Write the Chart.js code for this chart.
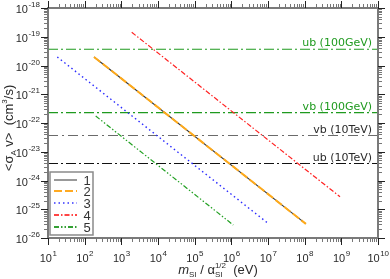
<!DOCTYPE html>
<html><head><meta charset="utf-8">
<script src="https://cdn.jsdelivr.net/npm/chart.js@4"></script>
<style>html,body{margin:0;padding:0;background:#fff}#wrap{width:390px;height:279px}</style>
</head><body><div id="wrap"><canvas id="c" width="390" height="279"></canvas></div>
<script>
// ---- data ----
const curveNames = ['1', '2', '3', '4', '5'];
const curve1X = [180, 1.08e8];
const curve1Y = [1.98e-20, 3.1e-26];
const curve2X = [180, 1.08e8];
const curve2Y = [1.98e-20, 3.1e-26];
const curve3X = [17.9, 1.06e7];
const curve3Y = [1.98e-20, 3.07e-26];
const curve4X = [1.92e3, 9.2e8];
const curve4Y = [1.43e-19, 2.73e-25];
const curve5X = [200, 1.13e6];
const curve5Y = [1.75e-22, 2.83e-26];
const refLabels = ['ub (100GeV)', 'vb (100GeV)', 'vb (10TeV)', 'ub (10TeV)'];
const refValues = [3.66e-20, 2.29e-22, 3.67e-23, 3.9e-24];
const xLimits = [1e1, 1e10];
const yLimits = [1e-26, 1e-18];
const xTickExps = [1, 2, 3, 4, 5, 6, 7, 8, 9, 10];
const yTickExps = [-18, -19, -20, -21, -22, -23, -24, -25, -26];

// ---- styles ----
const curveStyles = [
  {color: '#333333', width: 1.1, dash: [], order: 6},
  {color: '#ffaa1a', width: 2.0, dash: [8, 3], order: 5},
  {color: '#2a2aff', width: 1.4, dash: [1.5, 3], order: 4},
  {color: '#ff2222', width: 1.2, dash: [5, 2, 1.5, 2], order: 3},
  {color: '#22a022', width: 1.2, dash: [5, 2, 1.5, 2, 1.5, 2], order: 2}
];
const legendColors = ['#999999', '#ffaa22', '#6666ff', '#ff4444', '#33a033'];
const refStyles = [
  {color: '#1f9a1f', text: '#1f9a1f', dash: [10, 3, 2, 3]},
  {color: '#1f9a1f', text: '#1f9a1f', dash: [10, 3, 2, 3]},
  {color: '#6a6a6a', text: '#2a2a2a', dash: [10, 4, 2, 4]},
  {color: '#111111', text: '#2a2a2a', dash: [10, 3, 2, 3]}
];

const curvesX = [curve1X, curve2X, curve3X, curve4X, curve5X];
const curvesY = [curve1Y, curve2Y, curve3Y, curve4Y, curve5Y];

const datasets = [];
refValues.forEach((v, i) => {
  datasets.push({
    label: refLabels[i],
    data: xLimits.map(x => ({x: x, y: v})),
    borderColor: refStyles[i].color, borderWidth: 1.1, borderDash: refStyles[i].dash,
    showLine: true, pointRadius: 0, order: 10
  });
});
curveNames.forEach((n, i) => {
  datasets.push({
    label: n,
    data: curvesX[i].map((x, k) => ({x: x, y: curvesY[i][k]})),
    borderColor: curveStyles[i].color, borderWidth: curveStyles[i].width,
    borderDash: curveStyles[i].dash, showLine: true, pointRadius: 0,
    order: curveStyles[i].order
  });
});

const FONT = '"Liberation Sans", "DejaVu Sans", Arial, sans-serif';
const AFONT = '"DejaVu Sans", "Liberation Sans", sans-serif';

const decor = {
  id: 'decor',
  afterDraw(chart) {
    const ctx = chart.ctx, a = chart.chartArea;
    const xs = chart.scales.x, ys = chart.scales.y;
    ctx.save();
    // reference line annotations
    ctx.textAlign = 'right'; ctx.textBaseline = 'alphabetic';
    ctx.font = '11px ' + AFONT;
    refValues.forEach((v, i) => {
      ctx.fillStyle = refStyles[i].text;
      ctx.fillText(refLabels[i], a.right - 6, ys.getPixelForValue(v) - 3);
    });
    // axes box
    ctx.strokeStyle = '#7a7a7a'; ctx.lineWidth = 2; ctx.setLineDash([]);
    ctx.strokeRect(a.left, a.top, a.right - a.left, a.bottom - a.top);
    // ticks
    const tick = (x1, y1, x2, y2, major) => {
      ctx.strokeStyle = major ? '#222' : '#777';
      ctx.lineWidth = 1;
      ctx.beginPath(); ctx.moveTo(x1, y1); ctx.lineTo(x2, y2); ctx.stroke();
    };
    for (let e = 1; e <= 10; e++) {
      for (let m = 1; m <= 9; m++) {
        const v = m * Math.pow(10, e);
        if (v > xLimits[1] * 1.0001) break;
        const px = Math.round(xs.getPixelForValue(v)) + 0.5;
        const L = m === 1 ? 7 : 4;
        tick(px, a.top, px, a.top - L, m === 1);
        tick(px, a.bottom, px, a.bottom + L, m === 1);
      }
    }
    for (let e = -26; e <= -18; e++) {
      for (let m = 1; m <= 9; m++) {
        const v = m * Math.pow(10, e);
        if (v > yLimits[1] * 1.0001) break;
        const py = Math.round(ys.getPixelForValue(v)) + 0.5;
        const L = m === 1 ? 7 : 4;
        tick(a.left, py, a.left - L, py, m === 1);
        tick(a.right, py, a.right + L, py, m === 1);
      }
    }
    // tick labels
    ctx.fillStyle = '#2a2a2a'; ctx.textBaseline = 'alphabetic'; ctx.textAlign = 'left';
    xTickExps.forEach(e => {
      const px = xs.getPixelForValue(Math.pow(10, e));
      ctx.font = '11px ' + FONT; const w1 = ctx.measureText('10').width;
      ctx.font = '8px ' + FONT; const w2 = ctx.measureText(String(e)).width;
      const x0 = px - (w1 + w2) / 2;
      ctx.font = '11px ' + FONT; ctx.fillText('10', x0, a.bottom + 24);
      ctx.font = '8px ' + FONT; ctx.fillText(String(e), x0 + w1 + 0.5, a.bottom + 18);
    });
    yTickExps.forEach(e => {
      const py = ys.getPixelForValue(Math.pow(10, e));
      const s = String(e);
      ctx.font = '8px ' + FONT; const w2 = ctx.measureText(s).width;
      ctx.font = '11px ' + FONT; const w1 = ctx.measureText('10').width;
      const xe = a.left - 8;
      ctx.font = '11px ' + FONT; ctx.fillText('10', xe - w2 - w1 - 0.5, py + 5);
      ctx.font = '8px ' + FONT; ctx.fillText(s, xe - w2, py - 1);
    });
    // x title
    const parts = [
      {t: 'm', f: 'italic 13px ' + FONT, dy: 0},
      {t: 'SI', f: '8px ' + FONT, dy: 3},
      {t: ' / \u03b1', f: '13px ' + FONT, dy: 0},
      {t: 'SI', f: '8px ' + FONT, dy: 3, stack: '1/2'},
      {t: '  (eV)', f: '13px ' + FONT, dy: 0}
    ];
    let tw = 0;
    parts.forEach(p => { ctx.font = p.f; p.w = ctx.measureText(p.t).width;
      if (p.stack) { const ws = ctx.measureText(p.stack).width; p.w = Math.max(p.w, ws); }
      tw += p.w; });
    let cx = 218 - tw / 2; const by = 274;
    parts.forEach(p => {
      ctx.font = p.f; ctx.fillText(p.t, cx, by + p.dy);
      if (p.stack) ctx.fillText(p.stack, cx, by - 6);
      cx += p.w;
    });
    // y title
    ctx.save();
    ctx.translate(13, 128); ctx.rotate(-Math.PI / 2);
    const yp = [
      {t: '<\u03c3', f: '13px ' + FONT, dy: 0},
      {t: 'A', f: '8px ' + FONT, dy: 3},
      {t: ' v>  (cm', f: '13px ' + FONT, dy: 0},
      {t: '3', f: '8px ' + FONT, dy: -6},
      {t: '/s)', f: '13px ' + FONT, dy: 0}
    ];
    let yw = 0;
    yp.forEach(p => { ctx.font = p.f; p.w = ctx.measureText(p.t).width; yw += p.w; });
    let yx = -yw / 2;
    yp.forEach(p => { ctx.font = p.f; ctx.fillText(p.t, yx, p.dy); yx += p.w; });
    ctx.restore();
    // legend
    const lx = a.left + 2, ly = 172, lw = 43, lh = 63;
    ctx.fillStyle = '#fff'; ctx.fillRect(lx, ly, lw, lh);
    ctx.strokeStyle = '#8a8a8a'; ctx.lineWidth = 1.5; ctx.setLineDash([]);
    ctx.strokeRect(lx, ly, lw, lh);
    const rows = [180, 191, 203, 215, 227];
    curveNames.forEach((n, i) => {
      const st = curveStyles[i];
      ctx.strokeStyle = legendColors[i];
      ctx.lineWidth = 2;
      ctx.setLineDash(st.dash);
      ctx.beginPath(); ctx.moveTo(lx + 4, rows[i]); ctx.lineTo(lx + 27, rows[i]); ctx.stroke();
      ctx.setLineDash([]);
      ctx.fillStyle = '#333'; ctx.font = '13px ' + FONT;
      ctx.textAlign = 'center'; ctx.textBaseline = 'middle';
      ctx.fillText(n, lx + 37, rows[i] + 1);
    });
    ctx.restore();
  }
};

new Chart(document.getElementById('c'), {
  type: 'scatter',
  data: {datasets: datasets},
  options: {
    responsive: false, animation: false, devicePixelRatio: 1,
    layout: {padding: {left: 48, right: 12, top: 8, bottom: 41}},
    scales: {
      x: {type: 'logarithmic', min: xLimits[0], max: xLimits[1], display: false},
      y: {type: 'logarithmic', min: yLimits[0], max: yLimits[1], display: false}
    },
    plugins: {legend: {display: false}, tooltip: {enabled: false}}
  },
  plugins: [decor]
});
</script>
</body></html>
